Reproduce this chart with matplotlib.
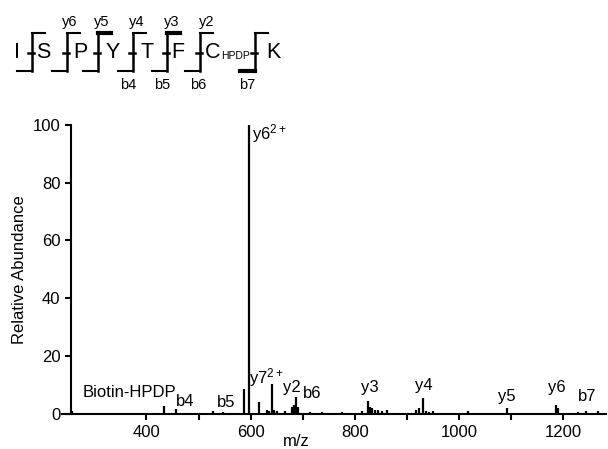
import matplotlib
matplotlib.use('Agg')
import matplotlib.pyplot as plt
from matplotlib.ticker import MultipleLocator, FixedLocator

plt.rcParams['font.family'] = ['Liberation Sans', 'DejaVu Sans']
plt.rcParams['mathtext.default'] = 'regular'

# spectrum sticks: m/z and relative abundance
mz = [258, 434, 457, 528, 547, 587, 597, 616, 632, 636, 641, 645, 650, 665,
      680, 684, 687, 690, 713, 736, 775, 781, 813, 826, 829, 833, 838, 845,
      852, 862, 918, 922, 930, 936, 942, 950, 1016, 1092, 1186, 1190, 1228,
      1244, 1266]
inten = [1.0, 2.8, 1.7, 1.0, 0.7, 8.6, 100, 4.0, 1.5, 1.2, 10.4, 1.5, 1.2,
         1.0, 2.5, 3.0, 6.0, 2.5, 0.7, 0.7, 0.7, 0.5, 1.0, 4.5, 2.5, 2.0,
         1.5, 1.5, 1.0, 1.5, 1.5, 2.0, 5.5, 1.0, 0.7, 1.0, 1.0, 2.0, 3.2,
         2.0, 0.7, 1.0, 1.0]

# fragment labels: text, m/z, height
ion_text = ['Biotin-HPDP', 'b4', 'b5', 'y7$^{2+}$', 'y2', 'b6', 'y3', 'y4',
            'y5', 'y6', 'b7', 'y6$^{2+}$']
ion_x = [277, 474, 553, 631, 679, 717, 828, 933, 1092, 1188, 1245, 602]
ion_y = [7.3, 4.3, 4.0, 12.5, 9.0, 7.0, 9.0, 9.7, 6.0, 9.3, 6.0, 97]

fig = plt.figure(figsize=(6.08, 4.49), dpi=100)
ax = fig.add_axes([0.102, 0.078, 0.895, 0.644])
ax.vlines(mz, 0, inten, colors='black', lw=1.6)
ax.set_xlim(238, 1282)
ax.set_ylim(0, 100)
for s in ['top', 'right']:
    ax.spines[s].set_visible(False)
for s in ['left', 'bottom']:
    ax.spines[s].set_linewidth(1.5)
ax.spines['left'].set_position(('data', 256))
ax.xaxis.set_major_locator(MultipleLocator(200))
ax.xaxis.set_minor_locator(FixedLocator([500, 700, 900, 1100]))
ax.yaxis.set_major_locator(MultipleLocator(20))
ax.tick_params(which='both', direction='out', length=4.5, width=1.5,
               labelsize=12)
ax.set_ylabel('Relative Abundance', fontsize=12)
fig.text(296 / 608, 1 - 441 / 449, 'm/z', fontsize=12, ha='center',
         va='center')

for t, x, y in zip(ion_text, ion_x, ion_y):
    ha = 'left' if t.startswith('y6$') or t.startswith('Biotin') else 'center'
    ax.text(x, y, t, fontsize=12, ha=ha, va='center')

# peptide sequence diagram (pixel overlay)
ov = fig.add_axes([0, 0, 1, 1])
ov.set_xlim(0, 608)
ov.set_ylim(449, 0)
ov.axis('off')

letters = ['I', 'S', 'P', 'Y', 'T', 'F', 'C', 'K']
letter_x = [17, 43, 80, 113, 147, 178, 213, 273]
for l, x in zip(letters, letter_x):
    ov.text(x, 53, l, fontsize=15.5, ha='center', va='center')
ov.text(236, 56, 'HPDP', fontsize=7.5, ha='center', va='center')

bracket_x = [32, 67, 98, 133, 167, 200, 255]
top_w = [1.5, 1.5, 3, 1.5, 3, 1.5, 1.5]
bot_w = [1.5, 1.5, 1.5, 1.5, 1.5, 1.5, 3]
for bx, tw, bw in zip(bracket_x, top_w, bot_w):
    ov.plot([bx, bx], [33, 71], color='black', lw=1.8)
    ov.plot([bx, bx + 13], [33, 33], color='black', lw=tw)
    ov.plot([bx - 15, bx], [71, 71], color='black', lw=bw)
    ov.plot([bx - 4, bx + 2], [53, 53], color='black', lw=1.8)

y_ions = ['y6', 'y5', 'y4', 'y3', 'y2']
y_ion_x = [70, 102, 137, 172, 207]
for t, x in zip(y_ions, y_ion_x):
    ov.text(x, 22, t, fontsize=10.5, ha='center', va='center')
b_ions = ['b4', 'b5', 'b6', 'b7']
b_ion_x = [128, 162, 198, 247]
for t, x in zip(b_ions, b_ion_x):
    ov.text(x, 85, t, fontsize=10.5, ha='center', va='center')

fig.savefig('out.png', dpi=100)
